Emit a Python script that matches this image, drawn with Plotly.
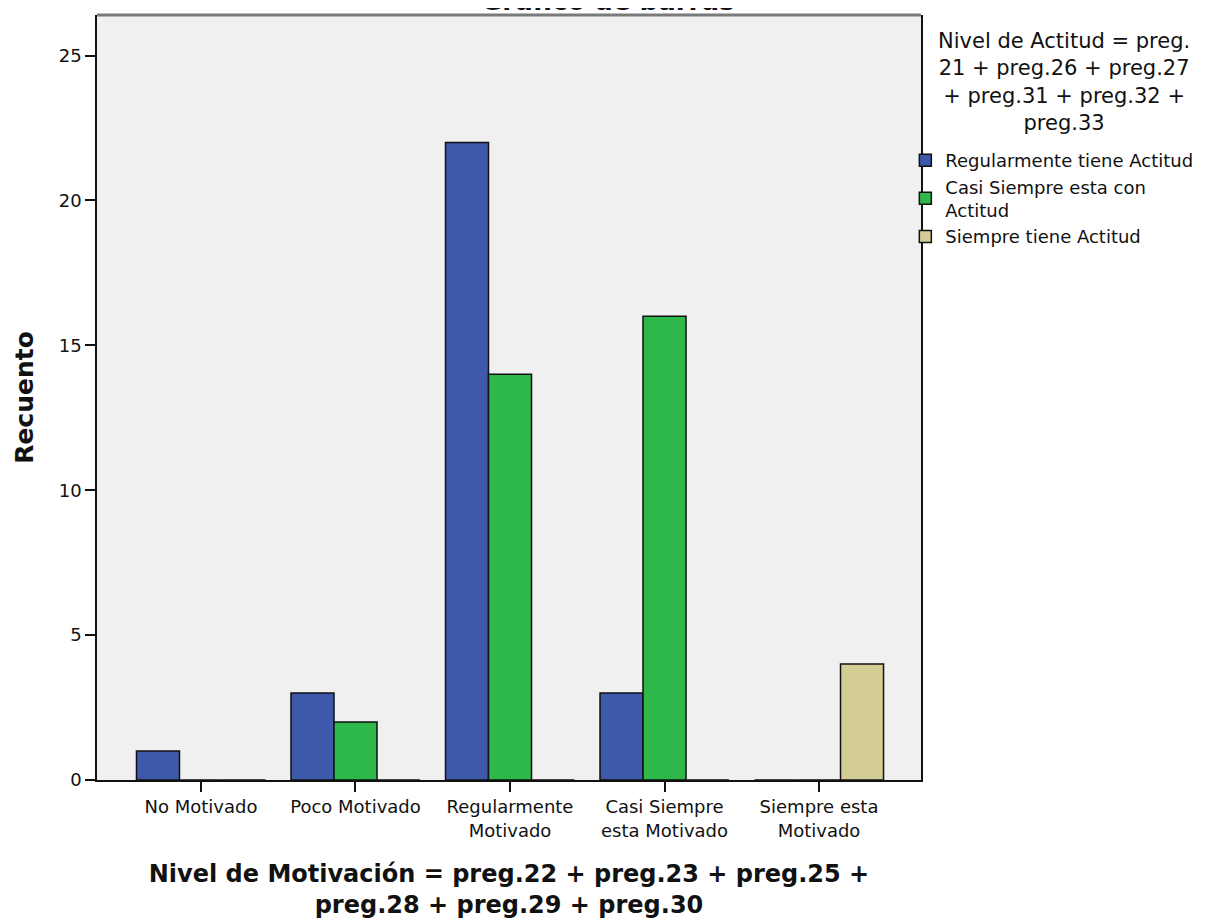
import plotly.graph_objects as go

categories = ["No Motivado", "Poco Motivado", "Regularmente<br>Motivado",
              "Casi Siempre<br>esta Motivado", "Siempre esta<br>Motivado"]
series_names = ["Regularmente tiene Actitud", "Casi Siempre esta con<br>Actitud",
                "Siempre tiene Actitud"]
regular_vals = [1, 3, 22, 3, 0]
casi_vals = [0, 2, 14, 16, 0]
siempre_vals = [0, 0, 0, 0, 4]
colors = ["#3E58AC", "#2EB84A", "#D4CE96"]
y_ticks = [0, 5, 10, 15, 20, 25]
legend_title = "Nivel de Actitud = preg.<br>21 + preg.26 + preg.27<br>+ preg.31 + preg.32 +<br>preg.33"
x_title = "<b>Nivel de Motivación = preg.22 + preg.23 + preg.25 +<br>preg.28 + preg.29 + preg.30</b>"

FONT = "DejaVu Sans, Verdana, sans-serif"
INK = "#111111"

fig = go.Figure()
for name, vals, col in zip(series_names, [regular_vals, casi_vals, siempre_vals], colors):
    fig.add_trace(go.Bar(
        x=categories, y=vals, name=name,
        marker=dict(color=col, line=dict(color=INK, width=1.5)),
    ))

fig.update_layout(
    width=1199, height=914,
    margin=dict(l=89, r=286, t=7, b=142, autoexpand=False),
    paper_bgcolor="white", plot_bgcolor="#F0F0F0",
    barmode="group", bargap=0.165, bargroupgap=0,
    font=dict(family=FONT, color=INK, size=18),
    showlegend=True,
    legend=dict(
        x=0.981, xanchor="left", y=0.834, yanchor="top",
        xref="paper", yref="paper",
        bgcolor="rgba(0,0,0,0)", borderwidth=0,
        font=dict(family=FONT, size=18, color=INK),
        itemwidth=30, tracegroupgap=5,
    ),
    xaxis=dict(
        range=[-0.673, 4.66], showgrid=False, zeroline=False,
        showline=True, linecolor=INK, linewidth=1.5, mirror=False,
        ticks="outside", ticklen=10, tickcolor=INK, tickwidth=1.5,
        tickfont=dict(family=FONT, size=18, color=INK),
        title=dict(text=x_title, font=dict(family=FONT, size=24, color=INK), standoff=25),
    ),
    yaxis=dict(
        range=[0, 26.4], tickvals=y_ticks, showgrid=False, zeroline=False,
        showline=True, linecolor=INK, linewidth=1.5, mirror=True,
        ticks="outside", ticklen=10, tickcolor=INK, tickwidth=1.5,
        tickfont=dict(family=FONT, size=18, color=INK),
        title=dict(text="<b>Recuento</b>", font=dict(family=FONT, size=25, color=INK),
                   standoff=18),
    ),
)

# gray top border of the plot frame
fig.add_shape(type="line", xref="paper", yref="paper", x0=0, x1=1, y0=1, y1=1,
              line=dict(color="#7A7A7A", width=3))

# Legend heading (centered, multi-line)
fig.add_annotation(
    text=legend_title, x=1.1735, xref="paper", xanchor="center",
    y=0.984, yref="paper", yanchor="top", showarrow=False, align="center",
    font=dict(family=FONT, size=21, color=INK),
)

# Chart title, mostly cut off at the top edge as in the reference
fig.add_annotation(
    text="<b>Gráfico de barras</b>", x=0.619, xref="paper", xanchor="center",
    y=1.0, yref="paper", yanchor="bottom", yshift=-3, showarrow=False,
    font=dict(family=FONT, size=26, color=INK),
)

fig.write_html("out.html")
